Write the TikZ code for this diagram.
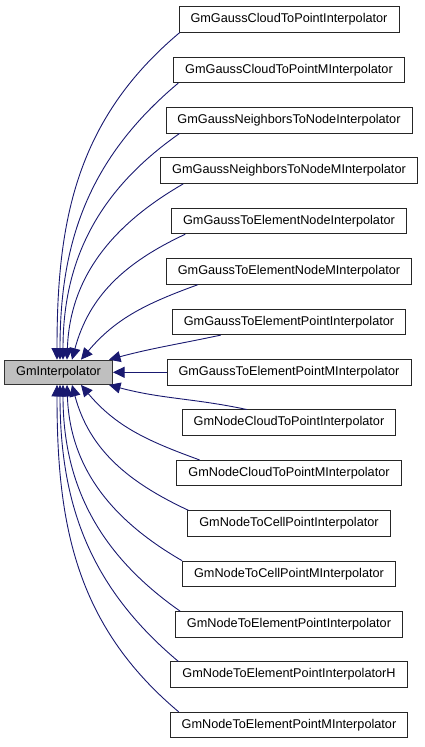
\documentclass[tikz,border=0pt]{standalone}
\usepackage{fontspec}
\setmainfont{Liberation Sans}
\usetikzlibrary{arrows.meta}
\definecolor{navy}{HTML}{191970}
\definecolor{boxgray}{HTML}{BFBFBF}
\begin{document}
\begin{tikzpicture}[x=1pt,y=1pt,
  cls/.style={draw=black!85, line width=0.9pt, fill=white, inner xsep=11.5pt, inner ysep=0pt,
    minimum height=25.5pt, font=\fontsize{12.7pt}{15pt}\selectfont, anchor=center},
  base/.style={cls, fill=boxgray, draw=black!80, line width=1.3pt, minimum width=107pt, minimum height=24pt},
  inh/.style={draw=navy, line width=0.9pt, -{Triangle[length=11.5pt,width=11pt]}}]
\useasboundingbox (0,0) rectangle (424,747);
\node[base] (gi) at (58.5,374.7) {GmInterpolator};
\node[cls] (n0)  at (289,727.5) {GmGaussCloudToPointInterpolator};
\node[cls] (n1)  at (289,677.1) {GmGaussCloudToPointMInterpolator};
\node[cls] (n2)  at (289,626.7) {GmGaussNeighborsToNodeInterpolator};
\node[cls] (n3)  at (289,576.3) {GmGaussNeighborsToNodeMInterpolator};
\node[cls] (n4)  at (289,525.9) {GmGaussToElementNodeInterpolator};
\node[cls] (n5)  at (289,475.5) {GmGaussToElementNodeMInterpolator};
\node[cls] (n6)  at (289,425.1) {GmGaussToElementPointInterpolator};
\node[cls] (n7)  at (289,374.7) {GmGaussToElementPointMInterpolator};
\node[cls] (n8)  at (289,324.3) {GmNodeCloudToPointInterpolator};
\node[cls] (n9)  at (289,273.9) {GmNodeCloudToPointMInterpolator};
\node[cls] (n10) at (289,223.5) {GmNodeToCellPointInterpolator};
\node[cls] (n11) at (289,173.1) {GmNodeToCellPointMInterpolator};
\node[cls] (n12) at (289,122.7) {GmNodeToElementPointInterpolator};
\node[cls] (n13) at (289,72.3)  {GmNodeToElementPointInterpolatorH};
\node[cls] (n14) at (289,21.9)  {GmNodeToElementPointMInterpolator};
% upper edges
\draw[inh] ([xshift=1pt]n0.south west)  to[out=220,in=90] ([xshift=53pt]gi.north west);
\draw[inh] ([xshift=5pt]n1.south west)  to[out=220,in=90] ([xshift=56pt]gi.north west);
\draw[inh] ([xshift=14pt]n2.south west) to[out=215,in=90] ([xshift=59pt]gi.north west);
\draw[inh] ([xshift=23pt]n3.south west) to[out=210,in=88] ([xshift=63pt]gi.north west);
\draw[inh] ([xshift=14pt]n4.south west) to[out=205,in=75] ([xshift=68pt]gi.north west);
\draw[inh] ([xshift=32pt]n5.south west) to[out=200,in=50] ([xshift=77pt]gi.north west);
\draw[inh] ([xshift=49pt]n6.south west) to[out=192,in=15] ([xshift=-4pt]gi.north east);
% middle
\draw[inh] (n7.west) -- (gi.east);
% lower edges
\draw[inh] ([xshift=65pt]n8.north west) to[out=168,in=-15] ([xshift=-4pt]gi.south east);
\draw[inh] ([xshift=23pt]n9.north west) to[out=160,in=-50] ([xshift=77pt]gi.south west);
\draw[inh] ([xshift=1pt]n10.north west) to[out=155,in=-75] ([xshift=68pt]gi.south west);
\draw[inh] ([xshift=0pt]n11.north west) to[out=150,in=-88] ([xshift=63pt]gi.south west);
\draw[inh] ([xshift=5pt]n12.north west) to[out=145,in=-90] ([xshift=59pt]gi.south west);
\draw[inh] ([xshift=8pt]n13.north west) to[out=140,in=-90] ([xshift=56pt]gi.south west);
\draw[inh] ([xshift=9pt]n14.north west) to[out=140,in=-90] ([xshift=53pt]gi.south west);
\end{tikzpicture}
\end{document}
